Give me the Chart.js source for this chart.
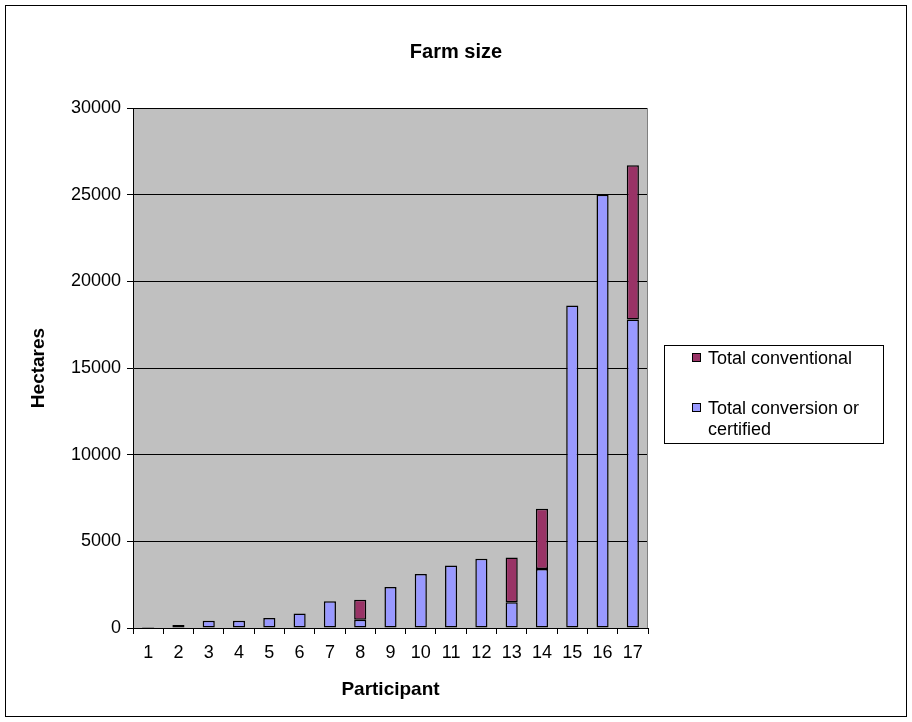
<!DOCTYPE html>
<html>
<head>
<meta charset="utf-8">
<script src="https://cdn.jsdelivr.net/npm/chart.js@4/dist/chart.umd.min.js"></script>
<style>
  html, body { margin: 0; padding: 0; background: #ffffff; }
  #wrap { width: 912px; height: 722px; }
</style>
</head>
<body>
<div id="wrap"><canvas id="c" width="912" height="722"></canvas></div>
<script>
const chartTitle = "Farm size";
const xAxisTitle = "Participant";
const yAxisTitle = "Hectares";
const participants = ["1","2","3","4","5","6","7","8","9","10","11","12","13","14","15","16","17"];
const conversionLabel = "Total conversion or certified";
const conventionalLabel = "Total conventional";
const conversionValues = [60, 170, 425, 425, 575, 830, 1550, 480, 2360, 3110, 3610, 3990, 1480, 3400, 18600, 25000, 17800];
const conventionalValues = [null, null, null, null, null, null, null, 1150, null, null, null, null, 2590, 3480, null, null, 8900];
const yTicks = [0, 5000, 10000, 15000, 20000, 25000, 30000];

const FONT = "'Liberation Sans', Arial, sans-serif";
Chart.defaults.font.family = FONT;
Chart.defaults.color = "#000000";

const framePlugin = {
  id: "frame",
  beforeDraw(chart) {
    const ctx = chart.ctx;
    const a = chart.chartArea;
    ctx.save();
    ctx.fillStyle = "#ffffff";
    ctx.fillRect(0, 0, chart.width, chart.height);
    ctx.strokeStyle = "#000000";
    ctx.lineWidth = 1;
    ctx.strokeRect(5.5, 5.5, 901, 711);
    ctx.fillStyle = "#C0C0C0";
    ctx.fillRect(a.left, a.top, a.right - a.left, a.bottom - a.top);
    ctx.restore();
  },
  beforeDatasetsDraw(chart) {
    const ctx = chart.ctx;
    const a = chart.chartArea;
    ctx.save();
    ctx.strokeStyle = "#808080";
    ctx.lineWidth = 1;
    ctx.beginPath();
    ctx.moveTo(Math.round(a.right) - 0.5, a.top);
    ctx.lineTo(Math.round(a.right) - 0.5, a.bottom);
    ctx.stroke();
    ctx.restore();
  },
  afterDraw(chart) {
    const ctx = chart.ctx;
    const ds = chart.data.datasets;
    ctx.save();
    ctx.strokeStyle = "#000000";
    ctx.lineWidth = 1;
    ctx.strokeRect(664.5, 345.5, 219, 98);
    ctx.font = "18px " + FONT;
    ctx.textBaseline = "middle";
    ctx.textAlign = "left";
    const items = [
      { d: ds[1], lines: ["Total conventional"], y: 358 },
      { d: ds[0], lines: ["Total conversion or", "certified"], y: 408 }
    ];
    items.forEach(it => {
      ctx.fillStyle = it.d.backgroundColor;
      ctx.fillRect(692, it.y - 4, 8, 8);
      ctx.strokeStyle = "#000000";
      ctx.strokeRect(692.5, it.y - 4.5, 8, 8);
      ctx.fillStyle = "#000000";
      it.lines.forEach((t, i) => ctx.fillText(t, 708, it.y + 1 + i * 21));
    });
    ctx.restore();
  }
};

new Chart(document.getElementById("c"), {
  type: "bar",
  data: {
    labels: participants,
    datasets: [
      {
        label: conversionLabel,
        data: conversionValues,
        backgroundColor: "#9999FF",
        borderColor: "#000000",
        borderWidth: 1.5,
        borderSkipped: false,
        barPercentage: 0.4,
        categoryPercentage: 1.0
      },
      {
        label: conventionalLabel,
        data: conventionalValues,
        backgroundColor: "#993366",
        borderColor: "#000000",
        borderWidth: 1.5,
        borderSkipped: false,
        barPercentage: 0.4,
        categoryPercentage: 1.0
      }
    ]
  },
  options: {
    responsive: false,
    animation: false,
    devicePixelRatio: 1,
    layout: { padding: { left: 0, right: 0, top: 0, bottom: 0 } },
    plugins: {
      legend: { display: false },
      tooltip: { enabled: false },
      title: {
        display: true,
        text: chartTitle,
        font: { size: 20, weight: "bold", family: FONT },
        color: "#000000",
        padding: { top: 40, bottom: 44 }
      }
    },
    scales: {
      x: {
        stacked: true,
        offset: true,
        grid: { drawOnChartArea: false, drawTicks: true, tickLength: 6, color: "#000000", offset: true },
        border: { display: true, color: "#000000" },
        ticks: { font: { size: 18 }, padding: 8, maxRotation: 0, autoSkip: false, color: "#000000" },
        title: { display: true, text: xAxisTitle, font: { size: 19, weight: "bold" }, padding: { top: 0, bottom: 21 }, color: "#000000" },
        afterFit(scale) { scale.height = 94; }
      },
      y: {
        stacked: true,
        min: 0,
        max: 30000,
        afterBuildTicks(scale) { scale.ticks = yTicks.map(v => ({ value: v })); },
        grid: { drawOnChartArea: true, drawTicks: true, tickLength: 6, color: "#000000" },
        border: { display: true, color: "#000000" },
        ticks: { font: { size: 18 }, padding: 6, color: "#000000", callback: v => String(v) },
        title: { display: true, text: yAxisTitle, font: { size: 19, weight: "bold" }, padding: { top: 27, bottom: 0 }, color: "#000000" },
        afterFit(scale) { scale.width = 133; }
      },
      legendSpace: {
        type: "linear",
        position: "right",
        display: true,
        grid: { display: false, drawTicks: false },
        ticks: { display: false },
        border: { display: false },
        title: { display: false },
        afterFit(scale) { scale.width = 264; }
      }
    }
  },
  plugins: [framePlugin]
});
</script>
</body>
</html>
